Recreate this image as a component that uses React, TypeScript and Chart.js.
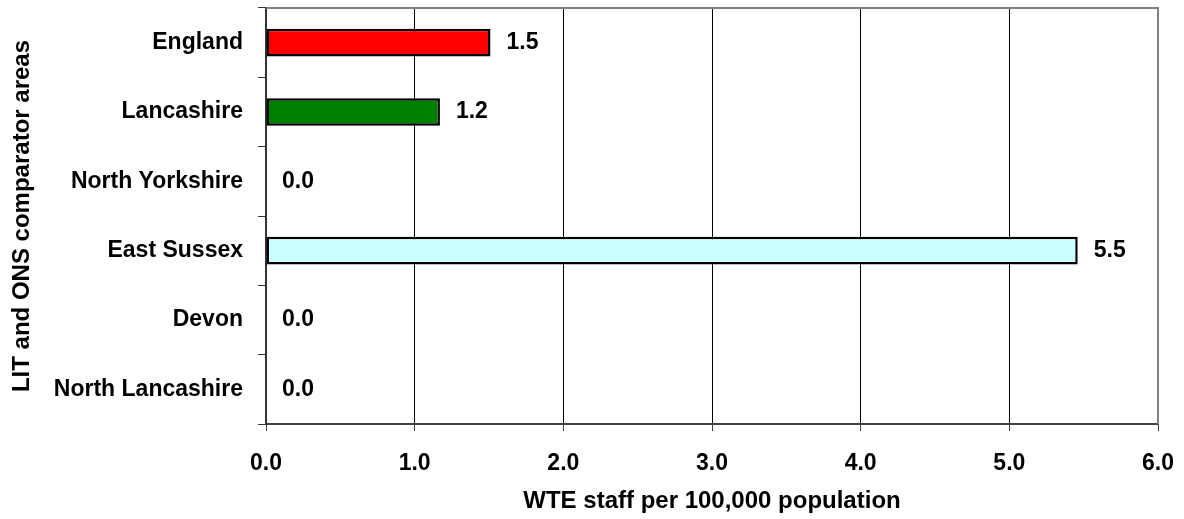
import React, { useEffect, useRef } from "react";
import { Chart, registerables } from "chart.js";

Chart.register(...registerables);

const categories: string[] = [
  "England",
  "Lancashire",
  "North Yorkshire",
  "East Sussex",
  "Devon",
  "North Lancashire",
];
const values: number[] = [1.51, 1.17, 0, 5.46, 0, 0];
const valueLabels: string[] = ["1.5", "1.2", "0.0", "5.5", "0.0", "0.0"];
const barColors: string[] = ["#FF0000", "#008000", "#FFFFFF", "#CCFFFF", "#FFFFFF", "#FFFFFF"];
const xTickValues: number[] = [0, 1, 2, 3, 4, 5, 6];
const xTitle = "WTE staff per 100,000 population";
const yTitle = "LIT and ONS comparator areas";

const FONT = "'Liberation Sans', Arial, sans-serif";

const valueLabelPlugin = {
  id: "valueLabels",
  afterDatasetsDraw(chart: any) {
    const { ctx } = chart;
    const meta = chart.getDatasetMeta(0);
    ctx.save();
    ctx.font = `bold 23px ${FONT}`;
    ctx.fillStyle = "#000";
    ctx.textAlign = "left";
    ctx.textBaseline = "middle";
    meta.data.forEach((bar: any, i: number) => {
      const end = chart.scales.x.getPixelForValue(values[i]);
      ctx.fillText(valueLabels[i], end + 16, bar.y);
    });
    ctx.restore();
  },
};

const frameBorderPlugin = {
  id: "frameBorder",
  afterDraw(chart: any) {
    const { ctx, chartArea } = chart;
    ctx.save();
    ctx.strokeStyle = "#808080";
    ctx.lineWidth = 2;
    ctx.beginPath();
    ctx.moveTo(chartArea.left, chartArea.top);
    ctx.lineTo(chartArea.right, chartArea.top);
    ctx.lineTo(chartArea.right, chartArea.bottom);
    ctx.stroke();
    ctx.restore();
  },
};

export default function App() {
  const canvasRef = useRef<HTMLCanvasElement | null>(null);

  useEffect(() => {
    document.body.style.margin = "0";
    const canvas = canvasRef.current;
    if (!canvas) return;
    const chart = new Chart(canvas, {
      type: "bar",
      data: {
        labels: categories,
        datasets: [
          {
            data: values,
            backgroundColor: barColors,
            borderColor: "#000000",
            borderWidth: values.map((v) => (v > 0 ? 2.5 : 0)),
            borderSkipped: false,
            barPercentage: 0.4,
            categoryPercentage: 1,
          },
        ],
      },
      options: {
        indexAxis: "y",
        animation: false,
        responsive: false,
        events: [],
        layout: { padding: { top: 8, right: 26, left: 0, bottom: 0 } },
        plugins: {
          legend: { display: false },
          tooltip: { enabled: false },
        },
        scales: {
          x: {
            type: "linear",
            min: 0,
            max: 6,
            afterBuildTicks(scale: any) {
              scale.ticks = xTickValues.map((v) => ({ value: v }));
            },
            afterFit(scale: any) {
              scale.height = 95;
              scale.paddingLeft = 0;
              scale.paddingRight = 0;
            },
            ticks: {
              padding: 19,
              color: "#000",
              font: { family: FONT, size: 23, weight: "bold" },
              callback: (v: any) => Number(v).toFixed(1),
            },
            grid: {
              color: "#000000",
              lineWidth: 1,
              tickLength: 7,
              tickColor: "#404040",
              drawTicks: true,
            },
            border: { color: "#404040", width: 2 },
            title: {
              display: true,
              text: xTitle,
              color: "#000",
              font: { family: FONT, size: 24, weight: "bold" },
              padding: { top: 0, bottom: 3 },
            },
          },
          y: {
            type: "category",
            afterFit(scale: any) {
              scale.width = 266;
              scale.paddingTop = 0;
              scale.paddingBottom = 0;
            },
            ticks: {
              padding: 15,
              color: "#000",
              font: { family: FONT, size: 23, weight: "bold" },
            },
            grid: {
              offset: true,
              drawOnChartArea: false,
              drawTicks: true,
              tickLength: 8,
              tickColor: "#333333",
              color: "#333333",
            },
            border: { color: "#333333", width: 2 },
            title: {
              display: true,
              text: yTitle,
              color: "#000",
              font: { family: FONT, size: 24, weight: "bold" },
              padding: { top: 8, bottom: 0 },
            },
          },
        },
      } as any,
      plugins: [valueLabelPlugin, frameBorderPlugin],
    });
    return () => chart.destroy();
  }, []);

  return (
    <div style={{ position: "absolute", left: 0, top: 0, width: 1184, height: 519, background: "#fff" }}>
      <canvas ref={canvasRef} width={1184} height={519} style={{ display: "block", width: 1184, height: 519 }} />
    </div>
  );
}
